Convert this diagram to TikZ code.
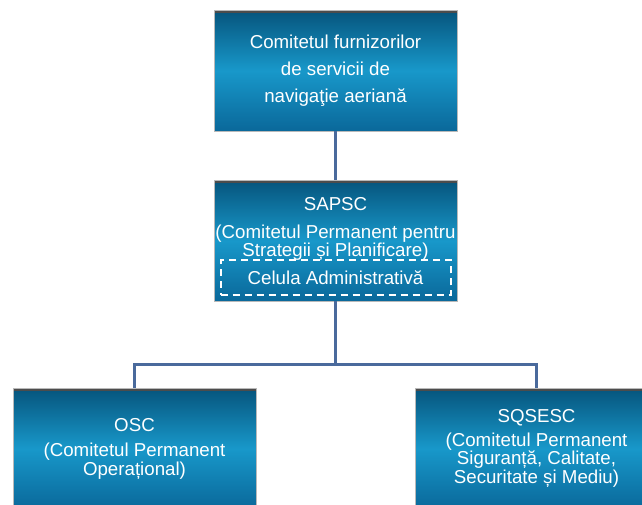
\documentclass[tikz,border=0pt]{standalone}
\usepackage{fontspec}
\setmainfont{Liberation Sans}
\usetikzlibrary{trees}
\usetikzlibrary{positioning}

\definecolor{boxtop}{RGB}{6,84,124}
\definecolor{boxmid}{RGB}{24,152,202}
\definecolor{boxbot}{RGB}{10,104,154}
\definecolor{linkcol}{RGB}{74,106,156}

\begin{document}
\begin{tikzpicture}
        [
            orgbox/.style={rectangle, minimum width=243pt, minimum height=121pt,
                inner sep=0pt, align=center, text=white,
                top color=boxtop, bottom color=boxbot, middle color=boxmid,
                draw=gray!55, line width=0.8pt,
                path picture={\draw[black!70, line width=5pt]
                    (path picture bounding box.north west) -- (path picture bounding box.north east);}},
            cellbox/.style={rectangle, minimum width=230pt, minimum height=35pt,
                inner sep=0pt, text=white, draw=white, line width=2pt,
                dash pattern=on 7pt off 5pt},
            edge from parent/.style={draw=linkcol, line width=2.2pt},
            level 1/.style={level distance=170pt},
            level 2/.style={level distance=208pt, sibling distance=402pt,
                edge from parent path={(\tikzparentnode.south) -- ++(0,-63pt) -| (\tikzchildnode.north)}},
        ]
        \useasboundingbox (0,0) rectangle (642pt,-504pt);
        \node[orgbox, font=\fontsize{18.7}{27}\selectfont] (cfsna) at (335.5pt,-70.5pt)
            {Comitetul furnizorilor\\de servicii de\\navigaţie aeriană}
            child { node[orgbox, font=\fontsize{18.7}{18}\selectfont] (sapsc)
                {SAPSC\\[10pt](Comitetul Permanent pentru\\Strategii și Planificare)\\[9pt]\phantom{Celula Administrativă}}
                child { node[orgbox, font=\fontsize{18.7}{19}\selectfont] (osc)
                    {OSC\\[6pt](Comitetul Permanent\\Operațional)} }
                child { node[orgbox, font=\fontsize{18.7}{16.5}\selectfont] (sqsesc)
                    {SQSESC\\[5pt](Comitetul Permanent\\Siguranță, Calitate,\\Securitate și Mediu)} }
            };
        \node[cellbox, font=\fontsize{18.7}{18}\selectfont, above=5pt of sapsc.south] (celula)
            {Celula Administrativă};
    \end{tikzpicture}
\end{document}
